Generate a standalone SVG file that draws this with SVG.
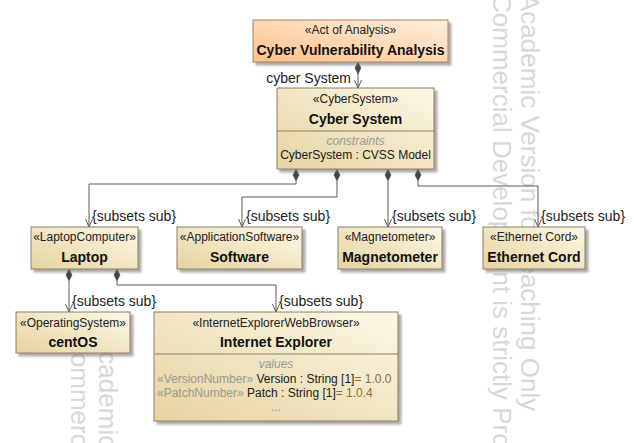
<svg xmlns="http://www.w3.org/2000/svg" width="634" height="443" viewBox="0 0 634 443">
<style>
text{font-family:"Liberation Sans",Arial,sans-serif;}
.wm{font-size:26px;fill:#d8d8d8;}
.st{font-size:12px;fill:#222;text-anchor:middle;}
.nm{font-size:14px;font-weight:bold;fill:#111;text-anchor:middle;}
.lbl{font-size:14px;fill:#222;}
.cmp{font-size:12px;font-style:italic;fill:#9a9a9a;text-anchor:middle;}
.body{font-size:12px;fill:#1a1a1a;}
.gray{fill:#9a9a9a;}
.val{fill:#8b6f2e;}
.box{fill:url(#tan);stroke:#8e8060;stroke-width:1;filter:url(#sh);}
.boxA{fill:url(#orange);stroke:#a88462;stroke-width:1;filter:url(#sh);}
.div{stroke:#8e8060;stroke-width:1;}
.ln{fill:none;stroke:#5a5a5a;stroke-width:1;}
.dia{fill:#444;stroke:#444;stroke-width:0.5;}
</style>
<defs>
<linearGradient id="tan" x1="0" y1="1" x2="1" y2="0">
<stop offset="0" stop-color="#e6d3a0"/>
<stop offset="1" stop-color="#fcf7e6"/>
</linearGradient>
<linearGradient id="orange" x1="0" y1="1" x2="1" y2="0">
<stop offset="0" stop-color="#ffc08c"/>
<stop offset="1" stop-color="#fdefdb"/>
</linearGradient>
<filter id="sh" x="-10%" y="-10%" width="130%" height="140%">
<feDropShadow dx="3" dy="3" stdDeviation="1.2" flood-color="#666" flood-opacity="0.55"/>
</filter>
<path id="diamond" d="M0,0 L3,6 L0,12 L-3,6 Z"/>
<marker id="arr" markerWidth="10" markerHeight="10" refX="8" refY="4" orient="auto" markerUnits="userSpaceOnUse">
<path d="M0,0.5 L8,4 L0,7.5" fill="none" stroke="#5a5a5a" stroke-width="1"/>
</marker>
</defs>
<rect width="634" height="443" fill="#fff"/>

<g id="watermark">
<text class="wm" transform="translate(521,-6) rotate(90)">Academic Version for Teaching Only</text>
<text class="wm" transform="translate(493,-6) rotate(90)">Commercial Development is strictly Prohibited</text>
<text class="wm" transform="translate(99,334) rotate(90)">Academic Version for Teaching Only</text>
<text class="wm" transform="translate(71,334) rotate(90)">Commercial Development is strictly Prohibited</text>
</g>

<g id="connectors">
<path class="ln" d="M358,73 V88" marker-end="url(#arr)"/>
<use href="#diamond" class="dia" x="358" y="62"/>
<text class="lbl" x="351" y="83" text-anchor="end">cyber System</text>

<path class="ln" d="M296,181 V184 H89 V227" marker-end="url(#arr)"/>
<use href="#diamond" class="dia" x="296" y="169"/>
<text class="lbl" x="92" y="221">{subsets sub}</text>

<path class="ln" d="M337,181 V197 H242 V227" marker-end="url(#arr)"/>
<use href="#diamond" class="dia" x="337" y="169"/>
<text class="lbl" x="246" y="221">{subsets sub}</text>

<path class="ln" d="M388,181 V227" marker-end="url(#arr)"/>
<use href="#diamond" class="dia" x="388" y="169"/>
<text class="lbl" x="392" y="221">{subsets sub}</text>

<path class="ln" d="M418,181 V186 H538 V227" marker-end="url(#arr)"/>
<use href="#diamond" class="dia" x="418" y="169"/>
<text class="lbl" x="541" y="221">{subsets sub}</text>

<path class="ln" d="M69,281 V312" marker-end="url(#arr)"/>
<use href="#diamond" class="dia" x="69" y="269"/>
<text class="lbl" x="72" y="306">{subsets sub}</text>

<path class="ln" d="M117,281 V285 H276 V312" marker-end="url(#arr)"/>
<use href="#diamond" class="dia" x="117" y="269"/>
<text class="lbl" x="279" y="306">{subsets sub}</text>
</g>

<g id="node-cva">
<rect class="boxA" x="253" y="20" width="195" height="42"/>
<text class="st" x="350.5" y="34">«Act of Analysis»</text>
<text class="nm" x="350.5" y="55">Cyber Vulnerability Analysis</text>
</g>

<g id="node-cybersystem">
<rect class="box" x="277" y="88" width="157" height="81"/>
<line class="div" x1="277" y1="131" x2="434" y2="131"/>
<text class="st" x="355.5" y="103">«CyberSystem»</text>
<text class="nm" x="355.5" y="124">Cyber System</text>
<text class="cmp" x="355.5" y="145">constraints</text>
<text class="body" x="355.5" y="159" text-anchor="middle">CyberSystem : CVSS Model</text>
</g>

<g id="node-laptop">
<rect class="box" x="31" y="227" width="107" height="42"/>
<text class="st" x="84.5" y="241">«LaptopComputer»</text>
<text class="nm" x="84.5" y="262">Laptop</text>
</g>

<g id="node-software">
<rect class="box" x="177" y="227" width="125" height="42"/>
<text class="st" x="239.5" y="241">«ApplicationSoftware»</text>
<text class="nm" x="239.5" y="262">Software</text>
</g>

<g id="node-magnetometer">
<rect class="box" x="338" y="227" width="104" height="42"/>
<text class="st" x="390" y="241">«Magnetometer»</text>
<text class="nm" x="390" y="262">Magnetometer</text>
</g>

<g id="node-ethernet">
<rect class="box" x="483" y="227" width="102" height="42"/>
<text class="st" x="534" y="241">«Ethernet Cord»</text>
<text class="nm" x="534" y="262">Ethernet Cord</text>
</g>

<g id="node-centos">
<rect class="box" x="16" y="312" width="114" height="41"/>
<text class="st" x="73" y="326.5">«OperatingSystem»</text>
<text class="nm" x="73" y="347">centOS</text>
</g>

<g id="node-ie">
<rect class="box" x="154" y="312" width="244" height="109"/>
<line class="div" x1="154" y1="354" x2="398" y2="354"/>
<text class="st" x="276" y="326.5">«InternetExplorerWebBrowser»</text>
<text class="nm" x="276" y="347">Internet Explorer</text>
<text class="cmp" x="276" y="367.5">values</text>
<text class="body" x="157" y="382.5"><tspan class="gray">«VersionNumber»</tspan> Version : String [1]<tspan class="val">= 1.0.0</tspan></text>
<text class="body" x="157" y="396.5"><tspan class="gray">«PatchNumber»</tspan> Patch : String [1]<tspan class="val">= 1.0.4</tspan></text>
<text class="cmp" x="276" y="411" style="font-style:normal">...</text>
</g>
</svg>
